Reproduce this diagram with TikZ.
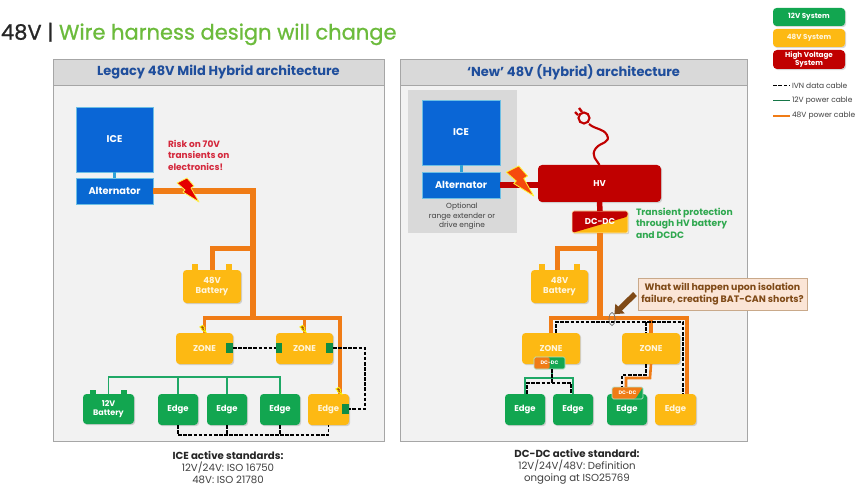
\documentclass[tikz,border=0pt]{standalone}
\usepackage{fontspec}
\setmainfont{Poppins}
\newfontfamily\titlefont[FakeBold=0.9]{Poppins}
\usetikzlibrary{shadows,calc,arrows.meta,shapes.geometric}
\definecolor{iceblue}{HTML}{0A66D6}
\definecolor{altblue}{HTML}{0868D2}
\definecolor{linkblue}{HTML}{2FA3D8}
\definecolor{edgegreen}{HTML}{12A650}
\definecolor{wiregreen}{HTML}{1FA866}
\definecolor{sysyellow}{HTML}{FDB913}
\definecolor{wireorange}{HTML}{F07C16}
\definecolor{hvred}{HTML}{C00000}
\definecolor{titlegreen}{HTML}{6CBB3C}
\definecolor{headblue}{HTML}{1F4E9C}
\definecolor{panelfill}{HTML}{F2F2F2}
\definecolor{panelline}{HTML}{A6A6A6}
\definecolor{headfill}{HTML}{D9D9D9}
\definecolor{greybox}{HTML}{D9D9D9}
\definecolor{riskred}{HTML}{D4283C}
\definecolor{okgreen}{HTML}{2FA84F}
\definecolor{brown}{HTML}{7F4A17}
\definecolor{peach}{HTML}{FBE5D6}
\definecolor{peachline}{HTML}{C9A98A}
\definecolor{txtgrey}{HTML}{404040}
\tikzset{
  base/.style={inner sep=0pt,outer sep=0pt,align=center,font=\bfseries\fontsize{8.5}{10.3}\selectfont,text=white},
  bigtxt/.style={font=\bfseries\fontsize{9.8}{11}\selectfont},
  shadowed/.style={drop shadow={opacity=.3,shadow xshift=1.2pt,shadow yshift=-1.2pt}},
  iceb/.style={base,bigtxt,fill=iceblue,shadowed,draw=linkblue!70,line width=.4pt},
  altb/.style={base,bigtxt,fill=altblue,shadowed,draw=linkblue!70,line width=.4pt},
  yel/.style={base,fill=sysyellow,rounded corners=3.5pt,shadowed,text=white!85!sysyellow},
  grn/.style={base,fill=edgegreen,rounded corners=3.5pt,shadowed},
  hvb/.style={base,fill=hvred,rounded corners=4pt,shadowed},
  port/.style={inner sep=0pt,outer sep=0pt,fill=edgegreen!85!black},
  term/.style={inner sep=0pt,outer sep=0pt},
  thick48/.style={draw=wireorange,line width=6.5pt},
  branch48/.style={draw=wireorange,line width=5pt},
  mid48/.style={draw=wireorange,line width=3.4pt},
  thin48/.style={draw=wireorange,line width=2.6pt},
  wire12/.style={draw=wiregreen,line width=1.7pt},
  ivn/.style={draw=black,line width=1.7pt,dash pattern=on 3.6pt off 1.5pt},
  lbl/.style={inner sep=0pt,outer sep=0pt,align=center},
  legendtxt/.style={inner sep=0pt,outer sep=0pt,anchor=west,font=\fontsize{7.5}{9}\selectfont,text=txtgrey},
  headtxt/.style={draw=panelline,fill=headfill,line width=.9pt,inner sep=0pt,font=\bfseries\fontsize{13}{15}\selectfont,text=headblue}
}
% name, x1,y1,x2,y2, style, text
\newcommand{\bx}[7]{\node[#6,minimum width={(#4-#2)*1pt},minimum height={(#5-#3)*1pt}] (#1) at ({(#2+#4)/2},{(#3+#5)/2}) {#7};}
\newcommand{\boltshape}[5]{\begin{scope}[shift={(#1,#2)},scale=#3]
  \fill[#4,draw=#5,line width=.8pt,line join=round] (-1,-12)--(-11,-7)--(-3,0)--(-5,2)--(11,12)--(3,-2)--(6,-4)--cycle;
\end{scope}}
\begin{document}
\begin{tikzpicture}[x=1pt,y=-1pt]
\useasboundingbox[fill=white] (0,0) rectangle (860,492);
% Title
\node[lbl,anchor=west,font=\titlefont\fontsize{21}{24}\selectfont] (title) at (1,34) {\textcolor{black!85}{48V |} \textcolor{titlegreen}{Wire harness design will change}};
% Panels
\bx{pl}{53}{59}{384}{441}{draw=panelline,fill=panelfill,line width=.9pt,inner sep=0pt}{}
\bx{hl}{53}{59}{384}{85}{headtxt}{Legacy 48V Mild Hybrid architecture}
\bx{pr}{400}{59}{747}{441}{draw=panelline,fill=panelfill,line width=.9pt,inner sep=0pt}{}
\bx{hr}{400}{59}{747}{85}{headtxt}{‘New’ 48V (Hybrid) architecture}
% Legend
\bx{k12}{773}{8}{845}{26}{grn,font=\bfseries\fontsize{7.2}{8}\selectfont}{12V System}
\bx{k48}{773}{29}{845}{47}{yel,font=\bfseries\fontsize{7.2}{8}\selectfont}{48V System}
\bx{khv}{773}{50}{845}{69}{hvb,font=\bfseries\fontsize{7.2}{7.8}\selectfont}{High Voltage\\System}
\node[legendtxt] (lt1) at (792,85.5) {IVN data cable};
\node[legendtxt] (lt2) at (792,100.5) {12V power cable};
\node[legendtxt] (lt3) at (792,116) {48V power cable};
\coordinate (la1) at (773,85.5); \coordinate (la2) at (773,100.5); \coordinate (la3) at (773,116);
\draw[black,line width=1.6pt,dash pattern=on 3.6pt off 1.8pt] (la1) -- ($(lt1.west)+(-2,0)$);
\draw[wiregreen!70!black,line width=1.8pt] (la2) -- ($(lt2.west)+(-2,0)$);
\draw[wireorange,line width=1.8pt] (la3) -- ($(lt3.west)+(-2,0)$);

%%% LEFT
\bx{lice}{76}{107}{153}{172}{iceb}{ICE}
\bx{lalt}{76}{178}{153}{204}{altb}{Alternator}
\draw[linkblue,line width=3pt] (lice.south) -- (lalt.north);
\node[lbl,anchor=north west,align=left,text=riskred,font=\bfseries\fontsize{9}{11.4}\selectfont] (risk) at (168,140) {Risk on 70V\\transients on\\electronics!};
% battery
\bx{lbt1}{192}{264}{198}{272}{term,fill=sysyellow}{}
\bx{lbt2}{226}{264}{232}{272}{term,fill=sysyellow}{}
\bx{lbat}{183}{270}{241}{303}{yel}{48V\\Battery}
\bx{lz1}{176}{333}{233}{364}{yel}{ZONE}
\bx{lz2}{276}{333}{333}{364}{yel}{ZONE}
\bx{lp1}{226}{343}{233}{353}{port}{}
\bx{lp2}{276}{343}{282}{353}{port}{}
\bx{lp3}{326}{343}{333}{353}{port}{}
\bx{lb12t1}{90}{390}{96}{396}{term,fill=edgegreen}{}
\bx{lb12t2}{121}{390}{127}{396}{term,fill=edgegreen}{}
\bx{lb12}{83}{394}{134}{424}{grn,font=\bfseries\fontsize{8}{9.4}\selectfont}{12V\\Battery}
\bx{le1}{158}{394}{198}{425}{grn}{Edge}
\bx{le2}{207}{394}{247}{425}{grn}{Edge}
\bx{le3}{260}{394}{300}{425}{grn}{Edge}
\bx{le4}{308}{394}{349}{425}{yel}{Edge}
\bx{lp4}{342}{404}{349}{414}{port}{}
% wires
\coordinate (lc1) at (253,191); \coordinate (lc2) at (253,248); \coordinate (lc3) at (253,318);
\coordinate (lc4) at (212,248); \coordinate (lc5) at (340,318);
\draw[thick48,line join=miter] (lalt.east) -- (lc1) -- (lc3);
\draw[branch48] (lc2) -- (lc4) -- (lc4 |- lbat.north);
\draw[mid48,line join=miter] (lz1.north) -- (lz1.north |- lc3) -- (lc5) -- (lc5 |- le4.north);
\draw[mid48] (lz2.north) -- (lz2.north |- lc3);
\coordinate (lg) at (108,377);
\draw[wire12] (lb12.north) -- (lb12.north |- lg) -- (le3.north |- lg) -- (le3.north);
\draw[wire12] (le1.north) -- (le1.north |- lg);
\draw[wire12] (le2.north) -- (le2.north |- lg);
\draw[ivn] (lp1.east) -- (lp2.west);
\coordinate (ld) at (365,348);
\draw[ivn] (lp3.east) -- (ld) -- (ld |- lp4.east) -- (lp4.east);
\coordinate (lb) at (178,435);
\draw[ivn] (le1.south) -- (le1.south |- lb) -- (le4.south |- lb) -- (le4.south);
\draw[ivn] (le2.south) -- (le2.south |- lb);
\draw[ivn] (le3.south) -- (le3.south |- lb);
\boltshape{188}{190}{1}{red!90!black}{yellow!70!white}
\boltshape{203}{329}{.3}{wireorange!70!black}{yellow}
\boltshape{303}{329}{.3}{wireorange!70!black}{yellow}
\boltshape{339}{391}{.3}{wireorange!70!black}{yellow}
\node[lbl,font=\fontsize{10.2}{12}\selectfont,text=txtgrey] (ltxt) at (228,468) {\textcolor{black!85}{\bfseries ICE active standards:}\\12V/24V: ISO 16750\\48V: ISO 21780};

%%% RIGHT
\bx{grey}{408}{90}{517}{233}{fill=greybox,inner sep=0pt}{}
\bx{rice}{422}{100}{500}{165}{iceb}{ICE}
\bx{ralt}{422}{172}{500}{198}{altb}{Alternator}
\draw[linkblue,line width=3pt] (rice.south) -- (ralt.north);
\node[lbl,text=txtgrey,font=\fontsize{7.4}{9.4}\selectfont] (opt) at (462,216.5) {Optional\\range extender or\\drive engine};
\bx{hv}{538}{165}{661}{202}{hvb}{HV}
\bx{dcdc}{572}{211}{628}{233}{base,rounded corners=2pt,draw=white!70!sysyellow,line width=.7pt,shadowed,fill=sysyellow,path picture={\fill[hvred] (path picture bounding box.north west) -- (path picture bounding box.north east) -- ($(path picture bounding box.north east)!.25!(path picture bounding box.south east)$) -- (path picture bounding box.south west) -- cycle;}}{DC-DC}
\draw[hvred,line width=6pt] (ralt.east) -- (ralt.east -| hv.west);
\draw[hvred,line width=5.5pt] (hv.south) -- (dcdc.north);
\draw[hvred,line width=2.1pt] (hv.north) .. controls (597,160) and (590,156) .. (596,148) .. controls (601,142) and (611,143) .. (607,135) .. controls (603,128) and (596,130) .. (589,124);
\node[circle,draw=hvred,line width=2.1pt,minimum size=11pt,inner sep=0pt] (plug) at (584,118) {};
\coordinate (pa) at (578,115); \coordinate (pb) at (582,112);
\coordinate (pa2) at (575,112); \coordinate (pb2) at (579,108);
\draw[hvred,line width=2.4pt] (pa) -- (pa2) (pb) -- (pb2);
\node[lbl,anchor=north west,align=left,text=okgreen,font=\bfseries\fontsize{9.2}{11.4}\selectfont] (trans) at (636,208) {Transient protection\\through HV battery\\and DCDC};
\bx{rbt1}{539}{264}{545}{272}{term,fill=sysyellow}{}
\bx{rbt2}{574}{264}{580}{272}{term,fill=sysyellow}{}
\bx{rbat}{531}{270}{588}{303}{yel}{48V\\Battery}
\bx{rz1}{522}{333}{580}{364}{yel}{ZONE}
\bx{rz2}{622}{333}{680}{364}{yel}{ZONE}
\bx{re1}{505}{394}{545}{425}{grn}{Edge}
\bx{re2}{553}{394}{593}{425}{grn}{Edge}
\bx{re3}{607}{394}{647}{425}{grn}{Edge}
\bx{re4}{655}{394}{696}{425}{yel}{Edge}
\coordinate (rc1) at (600,248); \coordinate (rc2) at (600,318); \coordinate (rc3) at (557,248);
\coordinate (rc4) at (687,318);
\draw[thick48] (dcdc.south) -- (rc2);
\draw[branch48] (rc1) -- (rc3) -- (rc3 |- rbat.north);
\draw[mid48,line width=4.4pt,line join=miter] (rz1.north) -- (rz1.north |- rc2) -- (rc4) -- (rc4 |- re4.north);
\draw[mid48,line width=4.4pt] (rz2.north) -- (rz2.north |- rc2);
\coordinate (rd1) at (556,322); \coordinate (rd2) at (683,322); \coordinate (rd3) at (646,322);
\draw[ivn] (rd1 |- rz1.north) -- (rd1) -- (rd2) -- (rd2 |- re4.north);
\draw[ivn] (rd3) -- (rd3 |- rz2.north);
\bx{rs2}{612}{387}{643}{399}{base,rounded corners=1.5pt,draw=white!70!edgegreen,line width=.7pt,fill=edgegreen,font=\bfseries\fontsize{5}{6}\selectfont,path picture={\fill[wireorange] (path picture bounding box.north west) -- (path picture bounding box.north east) -- ($(path picture bounding box.south west)!.75!(path picture bounding box.south east)$) -- (path picture bounding box.south west) -- cycle;}}{DC-DC}
\bx{rs1}{534}{357}{565}{369}{base,rounded corners=1.5pt,draw=white!70!edgegreen,line width=.7pt,fill=edgegreen,font=\bfseries\fontsize{5}{6}\selectfont,path picture={\fill[wireorange] (path picture bounding box.north west) -- (path picture bounding box.north) -- (path picture bounding box.south) -- (path picture bounding box.south west) -- cycle;}}{DC-DC}
% below zone 2
\coordinate (rf1) at (650,378); \coordinate (rf2) at (626,378);
\draw[thin48,line join=miter] (rz2.south) -- (rf1) -- (rf2) -- (rf2 |- rs2.north);
\coordinate (rf3) at (646,375); \coordinate (rf4) at (622,375);
\draw[ivn] (rf3 |- rz2.south) -- (rf3) -- (rf4) -- (rf4 |- rs2.north);
% below zone 1
\coordinate (rg1) at (552,378); \coordinate (rg2) at (525,378); \coordinate (rg3) at (573,378);
\draw[wire12,line width=2pt] (rg1 |- rs1.south) -- (rg1);
\draw[wire12,line width=2pt] (rg2 |- re1.north) -- (rg2) -- (rg3) -- (rg3 |- re2.north);
\coordinate (rh1) at (552,383); \coordinate (rh2) at (527,383); \coordinate (rh3) at (571,383);
\draw[ivn] (rh1 |- rs1.south) -- (rh1);
\draw[ivn] (rh2 |- re1.north) -- (rh2) -- (rh3) -- (rh3 |- re2.north);
% callout
\node[draw=black!55,line width=.7pt,ellipse,minimum width=6pt,minimum height=13pt,inner sep=0pt] (iso) at (612,319) {};
\bx{call}{638}{278}{807}{310}{draw=peachline,fill=peach,line width=.8pt,inner sep=0pt,align=center,text=brown,font=\bfseries\fontsize{9.4}{11.6}\selectfont}{What will happen upon isolation\\failure, creating BAT-CAN shorts?}
\coordinate (arrtail) at (635,294);
\draw[-{Triangle[width=13pt,length=8pt]},brown,line width=5.5pt] (arrtail) -- (iso.north east);
\boltshape{520}{181}{1.25}{wireorange!60!red}{yellow!80!white}
\node[lbl,font=\fontsize{10.2}{11.8}\selectfont,text=txtgrey] (rtxt) at (577,466.5) {\textcolor{black!85}{\bfseries DC-DC active standard:}\\12V/24V/48V: Definition\\ongoing at ISO25769};
\end{tikzpicture}
\end{document}
